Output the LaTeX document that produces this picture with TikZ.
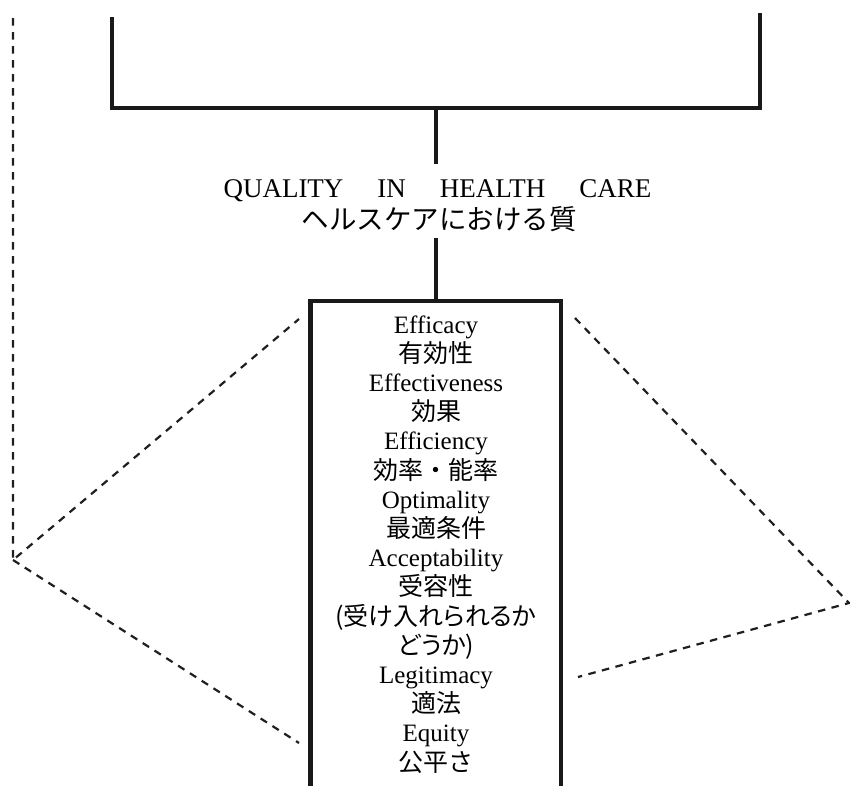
\documentclass[tikz,border=0pt]{standalone}
\usepackage{fontspec}
\setmainfont{Liberation Serif}
\newfontfamily\jp{Noto Sans CJK JP}
\newfontfamily\jpp[RawFeature=+palt]{Noto Sans CJK JP}
\begin{document}
\begin{tikzpicture}[x=1pt,y=-1pt,
  heavy/.style={line width=4.8pt, line join=miter, black!90},
  dashline/.style={line width=2.2pt, dash pattern=on 7.5pt off 6.5pt, black!88},
  headtxt/.style={anchor=base, inner sep=0pt, font=\fontsize{27}{32}\selectfont},
  headjptxt/.style={anchor=base, inner sep=0pt, font=\fontsize{27.5}{32}\selectfont\jp},
  boxtxt/.style={anchor=base, inner sep=0pt, font=\fontsize{25}{30}\selectfont}]
\useasboundingbox (0,0) rectangle (850,785);

% bracket
\coordinate (bl) at (112,17);
\coordinate (blc) at (112,108);
\coordinate (brc) at (760,108);
\coordinate (br) at (760,13);
\draw[heavy] (bl) -- (blc) -- (brc) -- (br);

% heading
\node[headtxt] (head) at (437.5,197) {QUALITY\hspace{34pt}IN\hspace{34pt}HEALTH\hspace{34pt}CARE};
\node[headjptxt] (headjp) at (439,229) {ヘルスケアにおける質};

% stems
\coordinate (s1) at (436,108);
\coordinate (s2) at (436,164);
\coordinate (s3) at (436,238);
\coordinate (s4) at (436,301);
\draw[heavy] (s1) -- (s2);
\draw[heavy] (s3) -- (s4);

% box (open at the bottom)
\coordinate (bxl) at (310.5,790);
\coordinate (bxtl) at (310.5,301);
\coordinate (bxtr) at (561,301);
\coordinate (bxr) at (561,790);
\draw[heavy] (bxl) -- (bxtl) -- (bxtr) -- (bxr);

% box texts
\foreach \t [count=\i from 0] in {Efficacy, {\jp 有効性}, Effectiveness, {\jp 効果},
  Efficiency, {\jp 効率・能率}, Optimality, {\jp 最適条件}, Acceptability, {\jp 受容性},
  {\jpp (受け入れられるか}, {\jpp どうか)}, Legitimacy, {\jp 適法}, Equity, {\jp 公平さ}}
  \node[boxtxt] (t\i) at (436, 333+29.2*\i) {\t};

% dashed lines
\coordinate (d0) at (13,18);
\coordinate (L) at (13,560);
\coordinate (ul) at (299,319);
\coordinate (ll) at (299,743);
\coordinate (ur) at (575,318);
\coordinate (R) at (849,603);
\coordinate (lr) at (578,677);
\draw[dashline] (d0) -- (L) -- (ul);
\draw[dashline] (L) -- (ll);
\draw[dashline] (ur) -- (R) -- (lr);
\end{tikzpicture}
\end{document}
